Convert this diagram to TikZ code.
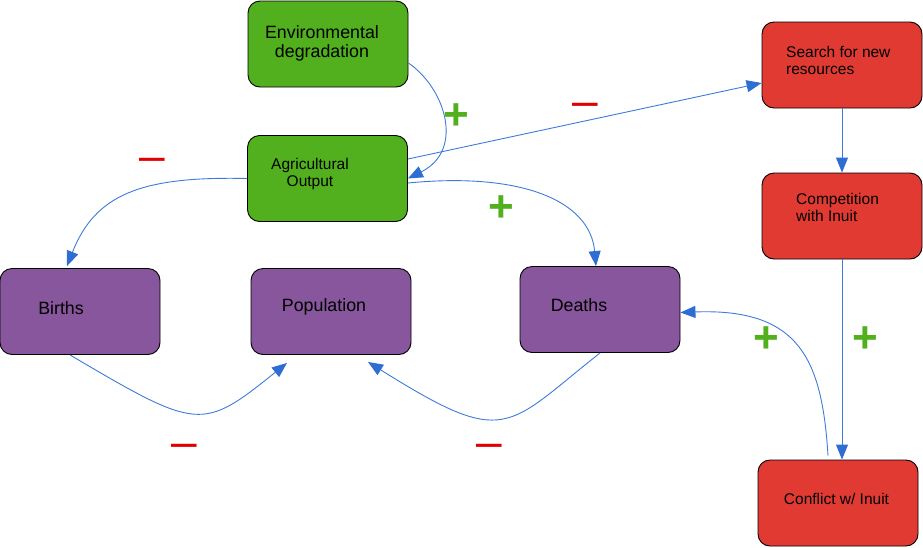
\documentclass[tikz,border=0pt]{standalone}
\usepackage{fontspec}
\setmainfont{Liberation Sans}
\usetikzlibrary{arrows.meta}
\definecolor{agrgreen}{HTML}{52B01E}
\definecolor{poppurple}{HTML}{87569D}
\definecolor{inuitred}{HTML}{E03A33}
\definecolor{linkblue}{HTML}{3D7BDB}
\definecolor{tipblue}{HTML}{2E6ED2}
\definecolor{signred}{HTML}{E00000}

\begin{document}
\begin{tikzpicture}[x=1pt,y=-1pt,
  box/.style={draw=black,line width=0.9pt,rounded corners=12pt,minimum width=160pt,minimum height=86pt,inner sep=0pt},
  big/.style={font=\fontsize{17.8}{19.5}\selectfont,align=center,inner sep=0pt},
  small/.style={font=\fontsize{15.5}{17}\selectfont,align=left,inner sep=0pt},
  plussign/.style={font=\bfseries\fontsize{44}{44}\selectfont,text=agrgreen,inner sep=0pt},
  minussign/.style={font=\fontsize{46}{46}\selectfont,text=signred,inner sep=0pt},
  link/.style={draw=linkblue,line width=0.9pt,-{Triangle[length=15pt,width=12pt,color=tipblue]}}]
  \useasboundingbox (0,0) rectangle (923,547);

  % boxes
  \node[box,fill=agrgreen] (env) at (328,44) {};
  \node[box,fill=agrgreen] (agri) at (327.5,178.5) {};
  \node[box,fill=inuitred] (search) at (842,65) {};
  \node[box,fill=inuitred] (comp) at (842,216) {};
  \node[box,fill=inuitred] (conflict) at (838,503) {};
  \node[box,fill=poppurple] (births) at (80,311.5) {};
  \node[box,fill=poppurple] (pop) at (331,311.5) {};
  \node[box,fill=poppurple] (deaths) at (600,309.5) {};

  % texts
  \node[big] (env-t) at (322,43.5) {Environmental\\degradation};
  \node[small,align=center] (agri-t) at (310,174) {Agricultural\\Output};
  \node[small,anchor=west] (search-t) at (786,60) {Search for new\\resources};
  \node[small,anchor=west] (comp-t) at (796,207) {Competition\\with Inuit};
  \node[small] (conflict-t) at (836.5,499) {Conflict w/ Inuit};
  \node[big] (births-t) at (61,308) {Births};
  \node[big] (pop-t) at (324,307) {Population};
  \node[big] (deaths-t) at (579,305) {Deaths};

  % links
  \draw[link] ([yshift=-19pt]env.east) .. controls (445,88) and (465,150) .. (agri.east);
  \draw[link] ([yshift=19.5pt]agri.east) -- ([yshift=-18pt]search.west);
  \draw[link] ([yshift=-4.5pt]agri.east) .. controls (520,172) and (590,200) .. ([xshift=-4pt]deaths.north);
  \draw[link] (agri.west) .. controls (140,176) and (95,195) .. ([xshift=-13pt,yshift=2pt]births.north);
  \draw[link] ([xshift=-10pt]births.south) .. controls (199,431) and (202,431) .. ([xshift=-44pt,yshift=-8pt]pop.south);
  \draw[link] (deaths.south) .. controls (505,428) and (507,449) .. ([xshift=37pt,yshift=-7pt]pop.south);
  \draw[link] (search.south) -- (comp.north);
  \draw[link] (comp.south) -- (comp.south |- conflict.north);
  \draw[link] ([xshift=-10pt,yshift=4pt]conflict.north) .. controls (822,360) and (800,308) .. ([yshift=-3pt]deaths.east);

  % signs
  \foreach \sx/\sy [count=\i] in {456.5/117,501.5/209,766/340,865/340}
    \node[plussign] (plus\i) at (\sx,\sy) {+};
  \foreach \sx/\sy [count=\i] in {585.5/109.5,152.5/164.5,184.5/450.5,489.5/450.5}
    \node[minussign] (minus\i) at (\sx,\sy) {–};
\end{tikzpicture}
\end{document}
